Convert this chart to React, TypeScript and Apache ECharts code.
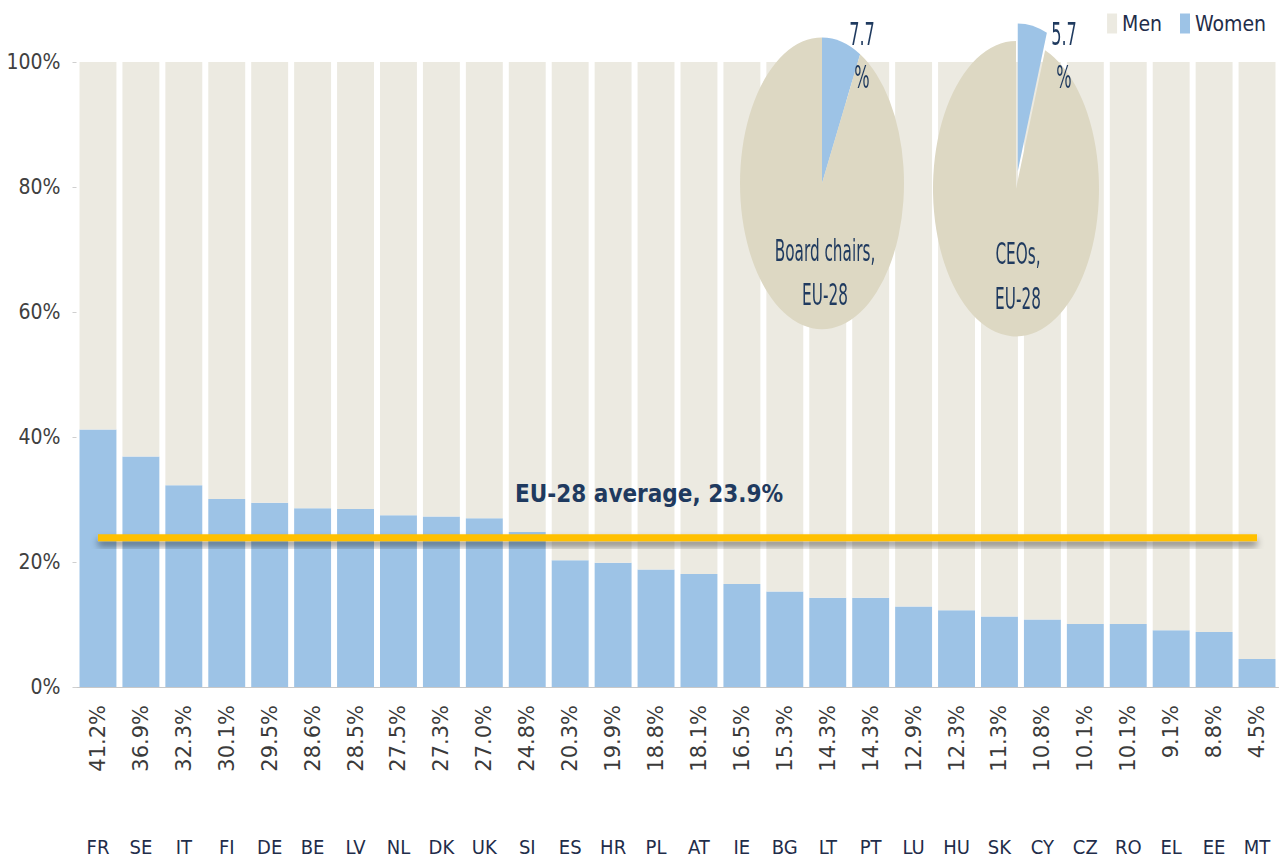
import React, { useEffect, useRef } from "react";
import * as echarts from "echarts";

const countries = ["FR","SE","IT","FI","DE","BE","LV","NL","DK","UK","SI","ES","HR","PL","AT","IE","BG","LT","PT","LU","HU","SK","CY","CZ","RO","EL","EE","MT"];
const womenShare = [41.2,36.9,32.3,30.1,29.5,28.6,28.5,27.5,27.3,27.0,24.8,20.3,19.9,18.8,18.1,16.5,15.3,14.3,14.3,12.9,12.3,11.3,10.8,10.1,10.1,9.1,8.8,4.5];
const menShare = [58.8,63.1,67.7,69.9,70.5,71.4,71.5,72.5,72.7,73.0,75.2,79.7,80.1,81.2,81.9,83.5,84.7,85.7,85.7,87.1,87.7,88.7,89.2,89.9,89.9,90.9,91.2,95.5];
const euAverage = 23.9;
const yTickValues = [0, 20, 40, 60, 80, 100];
// pies: [women, men]
const boardChairsShare = [7.7, 92.3];
const ceoShare = [5.7, 94.3];

const valueLabels = womenShare.map((v) => v.toFixed(1) + "%");

const NARROW = '"Liberation Sans Narrow", "DejaVu Sans Condensed", sans-serif';
const WOMEN_C = "#9DC3E6";
const MEN_C = "#ECEAE1";
const PIE_MEN_C = "#DDD8C3";
const NAVY = "#1F3A5F";
const SCALE_Y = 1.78;

export default function App() {
  const mainRef = useRef<HTMLDivElement>(null);
  const pieRef = useRef<HTMLDivElement>(null);

  useEffect(() => {
    const chart = echarts.init(mainRef.current!, null, { renderer: "svg" });
    chart.setOption({
      animation: false,
      textStyle: { fontFamily: NARROW },
      legend: {
        data: [
          { name: "Men", itemStyle: { color: MEN_C } },
          { name: "Women", itemStyle: { color: WOMEN_C } },
        ],
        right: 16,
        top: 8,
        itemWidth: 10,
        itemHeight: 20,
        itemGap: 18,
        icon: "rect",
        textStyle: { fontSize: 21, color: "#1f2d4a", fontFamily: NARROW },
      },
      grid: { left: 76.5, right: 8.5, top: 62, bottom: 179 },
      xAxis: [
        {
          type: "category",
          data: countries,
          axisTick: { show: false },
          axisLine: { lineStyle: { color: "#c8c8c8" } },
          axisLabel: { margin: 150, fontSize: 20, color: "#1f2d4a", fontFamily: NARROW, interval: 0 },
        },
        {
          type: "category",
          data: valueLabels,
          position: "bottom",
          axisTick: { show: false },
          axisLine: { show: false },
          axisLabel: { rotate: 90, margin: 18, fontSize: 21, color: "#3a3a3a", fontFamily: "DejaVu Sans", interval: 0 },
        },
      ],
      yAxis: {
        type: "value",
        min: yTickValues[0],
        max: yTickValues[yTickValues.length - 1],
        interval: 20,
        splitLine: { show: false },
        axisLine: { show: false },
        axisTick: { show: true, length: 4, lineStyle: { color: "#cfcfcf" } },
        axisLabel: { formatter: "{value}%", fontSize: 21, color: "#404040", margin: 16, fontFamily: NARROW },
      },
      series: [
        {
          name: "Women",
          type: "bar",
          stack: "a",
          data: womenShare,
          barCategoryGap: "14%",
          itemStyle: { color: WOMEN_C },
          silent: true,
        },
        {
          name: "Men",
          type: "bar",
          stack: "a",
          data: menShare,
          barCategoryGap: "14%",
          itemStyle: { color: MEN_C },
          silent: true,
        },
        {
          name: "EU-28 average",
          type: "custom",
          silent: true,
          z: 10,
          encode: { x: [0, 2], y: 1 },
          data: [[0, euAverage, countries.length - 1]],
          renderItem: (params: any, api: any) => {
            const p0 = api.coord([api.value(0), api.value(1)]);
            const p1 = api.coord([api.value(2), api.value(1)]);
            return {
              type: "rect",
              shape: { x: p0[0], y: p0[1] - 3.5, width: p1[0] - p0[0], height: 7 },
              style: {
                fill: "#FFC000",
                shadowColor: "rgba(0,0,0,0.45)",
                shadowBlur: 7,
                shadowOffsetY: 5,
              },
            };
          },
        },
      ],
      graphic: [
        {
          type: "text",
          left: 515,
          top: 482,
          z: 20,
          style: {
            text: `EU-28 average, ${euAverage}%`,
            fill: NAVY,
            font: `bold 24px ${NARROW}`,
          },
        },
      ],
    });

    const pie = echarts.init(pieRef.current!, null, { renderer: "svg" });
    const pieLabel = (x: number, y: number, text: string, size: number, lh: number) => ({
      type: "text",
      x,
      y,
      style: {
        text,
        fill: NAVY,
        font: `${size}px ${NARROW}`,
        align: "center",
        verticalAlign: "middle",
        lineHeight: lh,
      },
      z: 10,
    });
    pie.setOption({
      animation: false,
      series: [
        {
          type: "pie",
          center: [122, 103],
          radius: 82,
          startAngle: 90,
          clockwise: true,
          silent: true,
          label: { show: false },
          labelLine: { show: false },
          data: [
            { name: "Women", value: boardChairsShare[0], itemStyle: { color: WOMEN_C } },
            { name: "Men", value: boardChairsShare[1], itemStyle: { color: PIE_MEN_C } },
          ],
        },
        {
          type: "pie",
          center: [316, 106],
          radius: 83,
          startAngle: 90,
          clockwise: true,
          silent: true,
          selectedMode: "single",
          selectedOffset: 10,
          label: { show: false },
          labelLine: { show: false },
          data: [
            { name: "Women", value: ceoShare[0], selected: true, itemStyle: { color: WOMEN_C } },
            { name: "Men", value: ceoShare[1], itemStyle: { color: PIE_MEN_C } },
          ],
        },
      ],
      graphic: [
        pieLabel(162, 31, `${boardChairsShare[0]}\n%`, 18, 24),
        pieLabel(364, 31, `${ceoShare[0]}\n%`, 18, 24),
        pieLabel(125, 153, "Board chairs,\nEU-28", 17, 25),
        pieLabel(318, 155, "CEOs,\nEU-28", 17, 25),
      ],
    });

    return () => {
      chart.dispose();
      pie.dispose();
    };
  }, []);

  return (
    <div style={{ position: "absolute", left: 0, top: 0, width: 1287, height: 866, background: "#fff" }}>
      <div ref={mainRef} style={{ position: "absolute", left: 0, top: 0, width: 1287, height: 866 }} />
      <div
        ref={pieRef}
        style={{
          position: "absolute",
          left: 700,
          top: 0,
          width: 460,
          height: 200,
          transform: `scaleY(${SCALE_Y})`,
          transformOrigin: "0 0",
        }}
      />
    </div>
  );
}
